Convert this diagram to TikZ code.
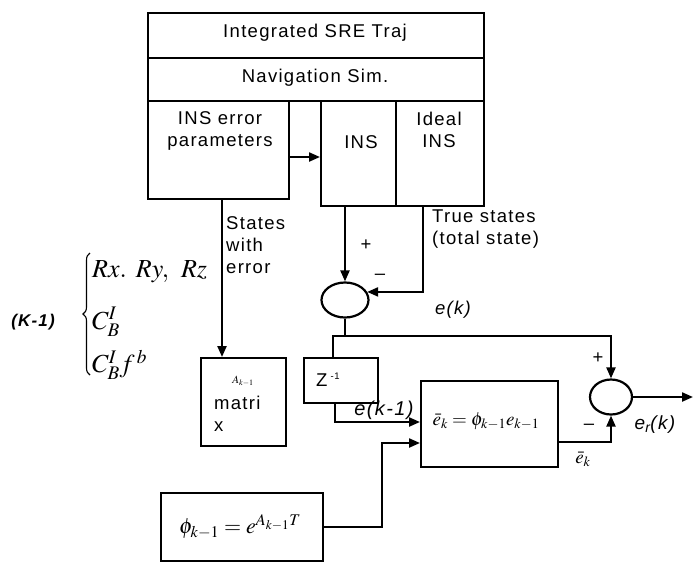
\documentclass[tikz,border=0pt]{standalone}
\usepackage{mathptmx}
\usepackage{fontspec}
\setmainfont{Liberation Sans}[LetterSpace=7]
\usetikzlibrary{arrows.meta,shapes.geometric,calc,decorations.pathreplacing}
\tikzset{
  lw/.style={line width=2.2pt},
  blk/.style={draw, lw, rectangle, inner sep=0pt, anchor=north west},
  sumnode/.style={draw, lw, ellipse, inner sep=0pt},
  arr/.style={lw, -{Triangle[length=11pt,width=9pt]}},
  ln/.style={lw},
  txt/.style={font=\fontsize{18.5}{22}\selectfont, inner sep=0pt},
  itx/.style={font=\fontsize{18.5}{22}\selectfont\itshape, inner sep=0pt},
  mth/.style={font=\fontsize{19}{22}\selectfont, inner sep=0pt},
}
\begin{document}
\begin{tikzpicture}[x=1pt,y=-1pt]
\useasboundingbox (0,0) rectangle (694,566);
% blocks
\node[blk, minimum width=336pt, minimum height=45pt] (traj) at (147,12) {};
\node[txt] (trajt) at (315,33) {Integrated SRE Traj};
\node[blk, minimum width=336pt, minimum height=43pt] (nav) at (147,57) {};
\node[txt] (navt) at (315,78) {Navigation Sim.};
\node[blk, minimum width=141pt, minimum height=98pt] (err) at (147,100) {};
\node[txt, align=center] (errt) at (220,131) {INS error\\parameters};
\node[blk, minimum width=75pt, minimum height=105pt] (ins) at (320,100) {};
\node[txt] (inst) at (361,142) {INS};
\node[blk, minimum width=88pt, minimum height=105pt] (ideal) at (395,100) {};
\node[txt, align=center] (idealt) at (439,130) {Ideal\\INS};
\node[sumnode, minimum width=47pt, minimum height=35pt] (sum1) at (345,300) {};
\node[blk, minimum width=85pt, minimum height=88pt] (amat) at (200,357) {};
\node[mth, font=\fontsize{11}{12}\selectfont] (amatA) at (243,381) {$A_{k-1}$};
\node[txt, anchor=west] (amatm) at (214,403) {matri};
\node[txt, anchor=west] (amatx) at (214,427) {x};
\node[blk, minimum width=74pt, minimum height=45pt] (zinv) at (303,357) {};
\node[txt, anchor=west] (zinvt) at (316,380) {Z\,\raisebox{7pt}{\fontsize{9.5}{10}\selectfont -1}};
\node[blk, minimum width=137pt, minimum height=86pt] (ekb) at (420,380) {};
\node[mth] (ekbt) at (486,421) {$\bar{e}_k=\phi_{k-1}e_{k-1}$};
\node[sumnode, minimum width=42pt, minimum height=35pt] (sum2) at (611,397) {};
\node[blk, minimum width=162pt, minimum height=68pt] (phi) at (160,492) {};
\node[mth, font=\fontsize{22}{24}\selectfont] (phit) at (240,527) {$\phi_{k-1}=e^{A_{k-1}T}$};
\coordinate (outend) at (693,397);
% connectors
\draw[arr] ($(err.north east)+(0,57)$) -- ($(ins.north west)+(0,57)$);
\draw[arr] ($(err.south west)+(75,0)$) coordinate (s1) -- (s1 |- amat.north);
\draw[arr] (sum1.north |- ins.south) -- (sum1.north);
\draw[arr] ($(ideal.south west)+(28,0)$) |- (sum1.20);
\draw[ln] (sum1.south) -- ++(0,17) coordinate (j1);
\draw[arr] ($(zinv.north west)+(30,0)$) coordinate (zt) -- (zt |- j1) -| (sum2.north);
\draw[arr] ($(zinv.south west)+(32,0)$) |- ($(ekb.north west)+(0,42)$);
\draw[arr] (phi.east) -- ++(58,0) |- ($(ekb.north west)+(0,63)$);
\draw[arr] ($(ekb.north east)+(0,62)$) -| (sum2.south);
\draw[arr] (sum2.east) -- (outend);
% labels
\node[txt, align=left, anchor=north west] (swe) at (226,216) {States\\with\\ error};
\node[txt, align=left, anchor=north west] (tst) at (432,210) {True states\\(total state)};
\node[txt] (p1) at (366,245) {+};
\node[txt] (m1) at (380,277) {--};
\node[itx] (ek) at (453,310) {e(k)};
\node[itx, font=\fontsize{20}{22}\selectfont\itshape] (ekm1) at (384,410) {e(k-1)};
\node[txt] (p2) at (598,358) {+};
\node[txt] (m2) at (589,427) {--};
\node[itx, font=\fontsize{19}{22}\selectfont\itshape] (erk) at (655,425) {e\textsubscript{r}(k)};
\node[mth] (ebar) at (583,459) {$\bar{e}_k$};
% brace group
\node[txt, font=\fontsize{17}{20}\selectfont\bfseries\itshape] (k1) at (33,322) {(K-1)};
\draw[decorate, decoration={brace, amplitude=7pt}, line width=1.1pt] (90,375) -- (90,253);
\node[mth, font=\fontsize{26}{28}\selectfont, anchor=west] (rx) at (92,272) {$Rx.\ Ry,\ Rz$};
\node[mth, font=\fontsize{26}{28}\selectfont, anchor=west] (cb) at (92,322) {$C_B^I$};
\node[mth, font=\fontsize{26}{28}\selectfont, anchor=west] (cbf) at (92,365) {$C_B^I f^{\,b}$};
\end{tikzpicture}
\end{document}
